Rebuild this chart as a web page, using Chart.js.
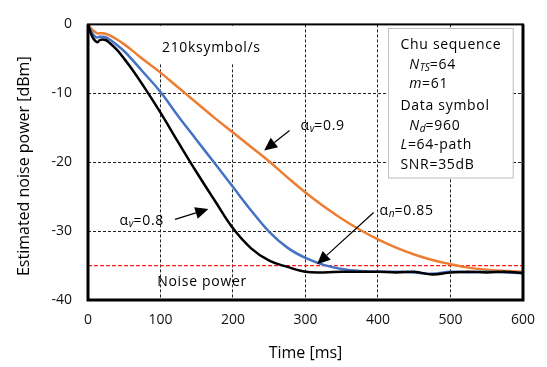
<!DOCTYPE html>
<html>
<head>
<meta charset="utf-8">
<script src="https://cdn.jsdelivr.net/npm/chart.js@4"></script>
<style>
  html, body { margin: 0; padding: 0; background: #fff; }
  #wrap { width: 547px; height: 367px; }
</style>
</head>
<body>
<div id="wrap"><canvas id="chart" width="547" height="367"></canvas></div>
<script>
// time axis [ms]
const timeMs = [0, 3, 6, 10, 13, 16, 20, 25, 30, 40, 50, 60, 75, 100, 125, 150, 175, 200, 225, 250,
  275, 300, 325, 350, 375, 400, 425, 450, 475, 500, 525, 550, 575, 600];
// estimated noise power [dBm]
const alpha08 = [0, -1.0, -1.8, -2.4, -2.6, -2.3, -2.2, -2.3, -2.7, -3.7, -5.0, -6.4, -8.7, -12.8, -17.2, -21.5, -25.6, -29.6, -32.5, -34.3,
  -35.2, -35.9, -36.0, -35.9, -35.9, -35.9, -36.0, -35.9, -36.3, -36.0, -35.9, -36.0, -35.9, -36.1];
const alpha085 = [0, -0.7, -1.3, -1.8, -1.9, -1.8, -1.8, -1.9, -2.2, -3.0, -3.9, -5.0, -6.8, -9.8, -13.4, -16.8, -20.2, -23.6, -27.0, -30.1,
  -32.4, -33.9, -34.9, -35.5, -35.8, -35.9, -35.9, -36.0, -36.2, -35.9, -36.0, -35.9, -36.0, -36.1];
const alpha09 = [0, -0.4, -0.8, -1.1, -1.3, -1.3, -1.3, -1.4, -1.6, -2.2, -2.9, -3.7, -5.0, -7.0, -9.2, -11.4, -13.6, -15.7, -17.8, -19.9,
  -22.2, -24.4, -26.4, -28.2, -29.8, -31.2, -32.4, -33.4, -34.2, -34.8, -35.3, -35.6, -35.8, -35.9];
const noiseLevel = -35;
const xTicks = [0, 100, 200, 300, 400, 500, 600];
const yTicks = [0, -10, -20, -30, -40];

const FONT = '"Open Sans", sans-serif';

function pts(ys) {
  return timeMs.map((t, i) => ({ x: t, y: ys[i] }));
}

// draw text made of pieces: {t, it (italic), sub}
function richText(ctx, x, y, parts, size) {
  let cx = x;
  for (const p of parts) {
    const s = p.sub ? size * 0.72 : size;
    ctx.font = (p.it ? 'italic ' : '') + s + 'px ' + FONT;
    ctx.letterSpacing = p.sub ? '0px' : '0.7px';
    ctx.fillText(p.t, cx, p.sub ? y + size * 0.25 : y);
    cx += ctx.measureText(p.t).width;
  }
  ctx.letterSpacing = '0px';
}

function arrow(ctx, x1, y1, x2, y2) {
  const a = Math.atan2(y2 - y1, x2 - x1);
  const hl = 13, hw = 6;
  const bx = x2 - hl * Math.cos(a), by = y2 - hl * Math.sin(a);
  ctx.strokeStyle = '#000';
  ctx.lineWidth = 1.2;
  ctx.beginPath();
  ctx.moveTo(x1, y1);
  ctx.lineTo(bx, by);
  ctx.stroke();
  ctx.fillStyle = '#000';
  ctx.beginPath();
  ctx.moveTo(x2, y2);
  ctx.lineTo(bx + hw * Math.sin(a), by - hw * Math.cos(a));
  ctx.lineTo(bx - hw * Math.sin(a), by + hw * Math.cos(a));
  ctx.closePath();
  ctx.fill();
}

const boxesPlugin = {
  id: 'boxes',
  beforeDatasetsDraw(chart) {
    const { ctx, scales: { x, y } } = chart;
    ctx.save();
    // white patch behind the rate label
    ctx.fillStyle = '#fff';
    ctx.fillRect(x.getPixelForValue(99), y.getPixelForValue(-0.2), x.getPixelForValue(250) - x.getPixelForValue(99), y.getPixelForValue(-5.6) - y.getPixelForValue(-0.2));
    // parameter box
    const bx1 = x.getPixelForValue(414), bx2 = x.getPixelForValue(586);
    const by1 = y.getPixelForValue(-0.5), by2 = y.getPixelForValue(-22.2);
    ctx.fillRect(bx1, by1, bx2 - bx1, by2 - by1);
    ctx.strokeStyle = '#bfbfbf';
    ctx.lineWidth = 1;
    ctx.strokeRect(Math.round(bx1) + 0.5, Math.round(by1) + 0.5, bx2 - bx1, by2 - by1);
    ctx.restore();
  },
  afterDatasetsDraw(chart) {
    const { ctx, chartArea: ca, scales: { x, y } } = chart;
    const X = v => x.getPixelForValue(v), Y = v => y.getPixelForValue(v);
    ctx.save();
    // frame
    ctx.strokeStyle = '#000';
    ctx.lineWidth = 2;
    ctx.strokeRect(ca.left, ca.top, ca.right - ca.left, ca.bottom - ca.top);
    ctx.lineWidth = 3;
    ctx.beginPath();
    ctx.moveTo(ca.left, ca.top);
    ctx.lineTo(ca.left, ca.bottom);
    ctx.lineTo(ca.right, ca.bottom);
    ctx.lineTo(ca.right, ca.top);
    ctx.stroke();

    ctx.fillStyle = '#000';
    ctx.textBaseline = 'middle';
    ctx.textAlign = 'left';
    const fs = 14;
    richText(ctx, X(102), Y(-3.4), [{ t: '210ksymbol/s' }], fs);
    richText(ctx, X(95.5), Y(-37.4), [{ t: 'Noise power' }], fs);

    // parameter box text
    const lx = X(431), lx2 = X(443);
    richText(ctx, lx, Y(-3.0), [{ t: 'Chu sequence' }], fs);
    richText(ctx, lx2, Y(-5.9), [{ t: 'N', it: true }, { t: 'TS', it: true, sub: true }, { t: '=64' }], fs);
    richText(ctx, lx2, Y(-8.7), [{ t: 'm', it: true }, { t: '=61' }], fs);
    richText(ctx, lx, Y(-11.8), [{ t: 'Data symbol' }], fs);
    richText(ctx, lx2, Y(-14.7), [{ t: 'N', it: true }, { t: 'd', it: true, sub: true }, { t: '=960' }], fs);
    richText(ctx, lx, Y(-17.5), [{ t: 'L', it: true }, { t: '=64-path' }], fs);
    richText(ctx, lx, Y(-20.4), [{ t: 'SNR=35dB' }], fs);

    // curve labels
    richText(ctx, X(293), Y(-14.7), [{ t: 'α' }, { t: 'v', it: true, sub: true }, { t: '=0.9' }], fs);
    richText(ctx, X(43.6), Y(-28.5), [{ t: 'α' }, { t: 'v', it: true, sub: true }, { t: '=0.8' }], fs);
    richText(ctx, X(402), Y(-27.1), [{ t: 'α' }, { t: 'n', it: true, sub: true }, { t: '=0.85' }], fs);

    arrow(ctx, X(278), Y(-15.4), X(243), Y(-18.3));
    arrow(ctx, X(120), Y(-28.3), X(166), Y(-26.8));
    arrow(ctx, X(394), Y(-27.3), X(316), Y(-34.8));

    // axis titles
    ctx.font = '16px ' + FONT;
    ctx.textAlign = 'center';
    ctx.fillText('Time [ms]', (ca.left + ca.right) / 2, 353);
    ctx.translate(24, (ca.top + ca.bottom) / 2 + 4);
    ctx.rotate(-Math.PI / 2);
    ctx.fillText('Estimated noise power [dBm]', 0, 0);
    ctx.restore();
  }
};

const lineOpts = (color) => ({
  borderColor: color,
  borderWidth: 2.5,
  pointRadius: 0,
  fill: false,
  tension: 0.4
});

new Chart(document.getElementById('chart'), {
  type: 'line',
  data: {
    datasets: [
      { label: 'αv=0.8', data: pts(alpha08), ...lineOpts('#000000') },
      { label: 'αn=0.85', data: pts(alpha085), ...lineOpts('#4472c4') },
      { label: 'αv=0.9', data: pts(alpha09), ...lineOpts('#ed7d31') },
      {
        label: 'Noise power',
        data: [{ x: 0, y: noiseLevel }, { x: 600, y: noiseLevel }],
        borderColor: '#ff1a1a', borderWidth: 1.3, borderDash: [4, 2], pointRadius: 0
      }
    ]
  },
  options: {
    responsive: false,
    animation: false,
    layout: { padding: { top: 12, right: 19, left: 0, bottom: 0 } },
    plugins: { legend: { display: false }, tooltip: { enabled: false } },
    scales: {
      x: {
        type: 'linear', min: 0, max: 600,
        afterFit: s => { s.height = 67; },
        afterBuildTicks: s => { s.ticks = xTicks.map(v => ({ value: v })); },
        grid: { color: '#222', lineWidth: 1, drawTicks: false },
        border: { display: false, dash: [3, 2] },
        ticks: { font: { family: FONT, size: 14 }, color: '#111', padding: 12, maxRotation: 0 }
      },
      y: {
        type: 'linear', min: -40, max: 0,
        afterFit: s => { s.width = 88; },
        afterBuildTicks: s => { s.ticks = yTicks.map(v => ({ value: v })); },
        grid: { color: '#222', lineWidth: 1, drawTicks: false },
        border: { display: false, dash: [3, 2] },
        ticks: { font: { family: FONT, size: 14 }, color: '#111', padding: 16 }
      }
    }
  },
  plugins: [boxesPlugin]
});
</script>
</body>
</html>
